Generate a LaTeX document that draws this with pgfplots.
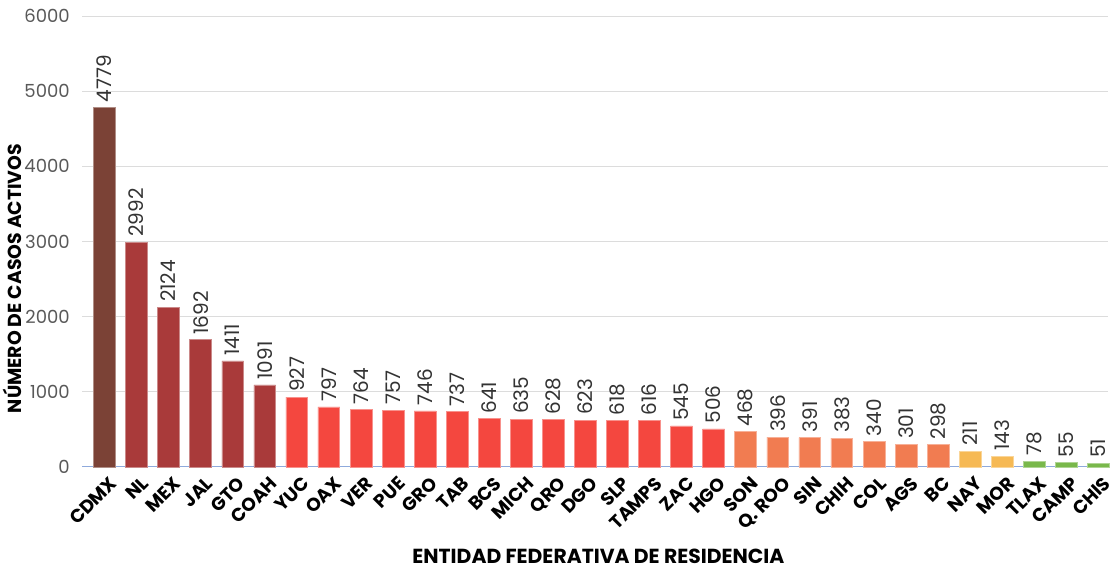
\documentclass[border=0pt]{standalone}
\usepackage{pgfplots}
\pgfplotsset{compat=1.18}
\usepackage{fontspec}
\setmainfont{Poppins}
\definecolor{cA}{HTML}{7B4236}
\definecolor{cB}{HTML}{A93A3A}
\definecolor{cC}{HTML}{F4473F}
\definecolor{cD}{HTML}{F17C51}
\definecolor{cE}{HTML}{F6B954}
\definecolor{cF}{HTML}{79B84B}
\definecolor{axblue}{HTML}{8FAADC}
\definecolor{gridc}{HTML}{DCDCDC}
\definecolor{tickc}{HTML}{595959}
\begin{document}
\begin{tikzpicture}
\begin{axis}[
  scale only axis,
  width=1024pt, height=450pt,
  xmin=-0.69, xmax=31.31,
  ymin=0, ymax=6000,
  ytick={0,1000,...,6000},
  xtick={0,...,31},
  xticklabels={CDMX,NL,MEX,JAL,GTO,COAH,YUC,OAX,VER,PUE,GRO,TAB,BCS,MICH,QRO,DGO,SLP,TAMPS,ZAC,HGO,SON,Q. ROO,SIN,CHIH,COL,AGS,BC,NAY,MOR,TLAX,CAMP,CHIS},
  x tick label style={rotate=45, anchor=north east, font=\fontsize{18.5}{18.5}\selectfont\bfseries, inner sep=0pt, xshift=-3pt, yshift=-9pt},
  y tick label style={font=\fontsize{18}{18}\selectfont, text=tickc, xshift=-9pt},
  /pgf/number format/assume math mode=true,
  yticklabel style={/pgf/number format/.cd, set thousands separator={}},
  ymajorgrids, grid style={gridc, line width=0.8pt},
  major tick length=0pt,
  axis x line*=bottom, axis y line*=left,
  x axis line style={draw=axblue, line width=1pt, -},
  y axis line style={draw=none},
  ybar, bar width=0.68, bar shift=0pt,
  nodes near coords,
  nodes near coords style={rotate=90, anchor=west, font=\fontsize{20}{20}\selectfont, text=black!80, inner sep=5pt},
  every node near coord/.append style={/pgf/number format/.cd, set thousands separator={}, assume math mode=true},
  ylabel={NÚMERO DE CASOS ACTIVOS},
  ylabel style={font=\fontsize{18.8}{19}\selectfont\bfseries, at={(axis description cs:-0.068,0.418)}, anchor=center, rotate=0},
  xlabel={ENTIDAD FEDERATIVA DE RESIDENCIA},
  xlabel style={font=\fontsize{20.3}{21}\selectfont\bfseries, at={(axis description cs:0.503,-0.198)}, anchor=center},
  clip=false,
]
\addplot[fill=cA, draw=cA!60!white, line width=0.6pt] coordinates {(0,4779)};
\addplot[fill=cB, draw=cB!60!white, line width=0.6pt] coordinates {(1,2992)(2,2124)(3,1692)(4,1411)(5,1091)};
\addplot[fill=cC, draw=cC!60!white, line width=0.6pt] coordinates {(6,927)(7,797)(8,764)(9,757)(10,746)(11,737)(12,641)(13,635)(14,628)(15,623)(16,618)(17,616)(18,545)(19,506)};
\addplot[fill=cD, draw=cD!60!white, line width=0.6pt] coordinates {(20,468)(21,396)(22,391)(23,383)(24,340)(25,301)(26,298)};
\addplot[fill=cE, draw=cE!60!white, line width=0.6pt] coordinates {(27,211)(28,143)};
\addplot[fill=cF, draw=cF!60!white, line width=0.6pt] coordinates {(29,78)(30,55)(31,51)};
\path (rel axis cs:0,1) ++(0,16pt);
\path (rel axis cs:0,0) ++(0,-102pt);
\end{axis}
\end{tikzpicture}
\end{document}
